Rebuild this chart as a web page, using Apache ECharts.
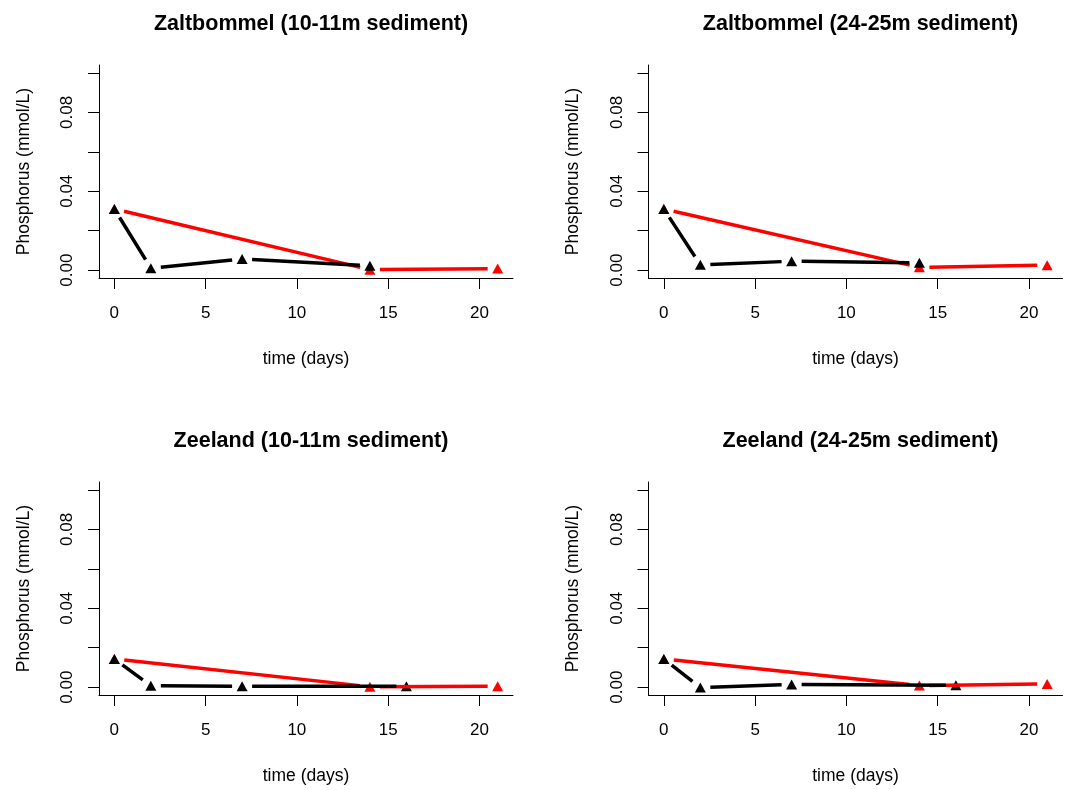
<!DOCTYPE html>
<html>
<head>
<meta charset="utf-8">
<title>Phosphorus</title>
<script src="https://cdn.jsdelivr.net/npm/echarts@6/dist/echarts.min.js"></script>
<style>
  html, body { margin: 0; padding: 0; background: #fff; }
  #chart { width: 1073px; height: 790px; }
</style>
</head>
<body>
<div id="chart"></div>
<script>
// panel titles
const panelTitles = [
  'Zaltbommel (10-11m sediment)',
  'Zaltbommel (24-25m sediment)',
  'Zeeland (10-11m sediment)',
  'Zeeland (24-25m sediment)'
]

// sampling days
const blackDaysZalt = [0, 2, 7, 14]
const blackDaysZee = [0, 2, 7, 16]
const redDays = [0, 14, 21]

// phosphorus (mmol/L), black series
const zaltShallowBlack = [0.031, 0.001, 0.0056, 0.0022]
const zaltDeepBlack = [0.031, 0.0027, 0.0045, 0.0037]
const zeeShallowBlack = [0.0143, 0.0007, 0.0004, 0.0004]
const zeeDeepBlack = [0.0143, -0.0002, 0.0013, 0.0009]

// phosphorus (mmol/L), red series
const zaltShallowRed = [0.031, 0.0002, 0.0008]
const zaltDeepRed = [0.031, 0.0014, 0.0025]
const zeeShallowRed = [0.0143, 0.0002, 0.0005]
const zeeDeepRed = [0.0143, 0.0008, 0.0016]

// ticks
const xTicks = [0, 5, 10, 15, 20]
const yTicks = [0, 0.02, 0.04, 0.06, 0.08, 0.10]
const yLabels = [0, 0.04, 0.08]

const blackSets = [
  [blackDaysZalt, zaltShallowBlack],
  [blackDaysZalt, zaltDeepBlack],
  [blackDaysZee, zeeShallowBlack],
  [blackDaysZee, zeeDeepBlack]
]
const redSets = [zaltShallowRed, zaltDeepRed, zeeShallowRed, zeeDeepRed]

const FONT = '"Liberation Sans", Arial, sans-serif'
const lefts = [99, 648.5, 99, 648.5]
const tops = [65, 65, 482, 482]
const gridW = 414
const gridH = 213
const GAP = 10 // px left open around each point, like R's type = "b"

const zip = (xs, ys) => xs.map((x, i) => [x, ys[i]])

const grids = []
const xAxes = []
const yAxes = []
const titles = []
const series = []
const panels = []

for (let i = 0; i < 4; i++) {
  grids.push({ left: lefts[i], top: tops[i], width: gridW, height: gridH })
  titles.push({
    text: panelTitles[i],
    left: lefts[i] + gridW / 2,
    top: tops[i] - 57,
    textAlign: 'center',
    textStyle: { fontFamily: FONT, fontSize: 21.5, fontWeight: 'bold', color: '#000' }
  })
  xAxes.push({
    type: 'value',
    gridIndex: i,
    min: -0.84,
    max: 21.84,
    name: 'time (days)',
    nameLocation: 'middle',
    nameGap: 72,
    nameTextStyle: { fontFamily: FONT, fontSize: 17.5, color: '#000' },
    axisLine: { show: true, onZero: false, lineStyle: { color: '#000', width: 1 } },
    axisTick: { show: true, length: 11, customValues: xTicks, lineStyle: { color: '#000' } },
    axisLabel: { customValues: xTicks, margin: 27, fontFamily: FONT, fontSize: 17, color: '#000' },
    splitLine: { show: false }
  })
  yAxes.push({
    type: 'value',
    gridIndex: i,
    min: -0.004,
    max: 0.104,
    name: 'Phosphorus (mmol/L)',
    nameLocation: 'middle',
    nameGap: 66,
    nameTextStyle: { fontFamily: FONT, fontSize: 17.5, color: '#000' },
    axisLine: { show: true, onZero: false, lineStyle: { color: '#000', width: 1 } },
    axisTick: { show: true, length: 11, customValues: yTicks, lineStyle: { color: '#000' } },
    axisLabel: {
      customValues: yLabels,
      rotate: 90,
      margin: 23,
      fontFamily: FONT,
      fontSize: 17,
      color: '#000',
      formatter: v => v.toFixed(2)
    },
    splitLine: { show: false }
  })

  const red = zip(redDays, redSets[i])
  const black = zip(blackSets[i][0], blackSets[i][1])
  panels.push({ red, black })

  // red first, black drawn over it
  ;[['red', red, '#ff0000'], ['black', black, '#000']].forEach(([key, pts, color]) => {
    series.push({
      id: key + 'Line' + i,
      type: 'line',
      xAxisIndex: i,
      yAxisIndex: i,
      data: [],
      showSymbol: false,
      connectNulls: false,
      lineStyle: { color: color, width: 3.5, cap: 'butt' },
      itemStyle: { color: color },
      silent: true
    })
    series.push({
      type: 'scatter',
      xAxisIndex: i,
      yAxisIndex: i,
      data: pts,
      symbol: 'triangle',
      symbolSize: [11, 10],
      itemStyle: { color: color, opacity: 1 }
    })
  })
}

const chart = echarts.init(document.getElementById('chart'))
chart.setOption({
  animation: false,
  backgroundColor: '#fff',
  title: titles,
  grid: grids,
  xAxis: xAxes,
  yAxis: yAxes,
  series: series
})

// shorten each segment at both ends, working in pixel space of the grid
const gapped = (pts, gi) => {
  const out = []
  for (let k = 0; k < pts.length - 1; k++) {
    const a = chart.convertToPixel({ gridIndex: gi }, pts[k])
    const b = chart.convertToPixel({ gridIndex: gi }, pts[k + 1])
    const dx = b[0] - a[0]
    const dy = b[1] - a[1]
    const d = Math.sqrt(dx * dx + dy * dy)
    if (d <= 2 * GAP) continue
    const ux = dx / d
    const uy = dy / d
    const s = chart.convertFromPixel({ gridIndex: gi }, [a[0] + ux * GAP, a[1] + uy * GAP])
    const e = chart.convertFromPixel({ gridIndex: gi }, [b[0] - ux * GAP, b[1] - uy * GAP])
    out.push(s, e, null)
  }
  return out
}

const updates = []
panels.forEach((p, i) => {
  updates.push({ id: 'redLine' + i, data: gapped(p.red, i) })
  updates.push({ id: 'blackLine' + i, data: gapped(p.black, i) })
})
chart.setOption({ series: updates })
</script>
</body>
</html>
